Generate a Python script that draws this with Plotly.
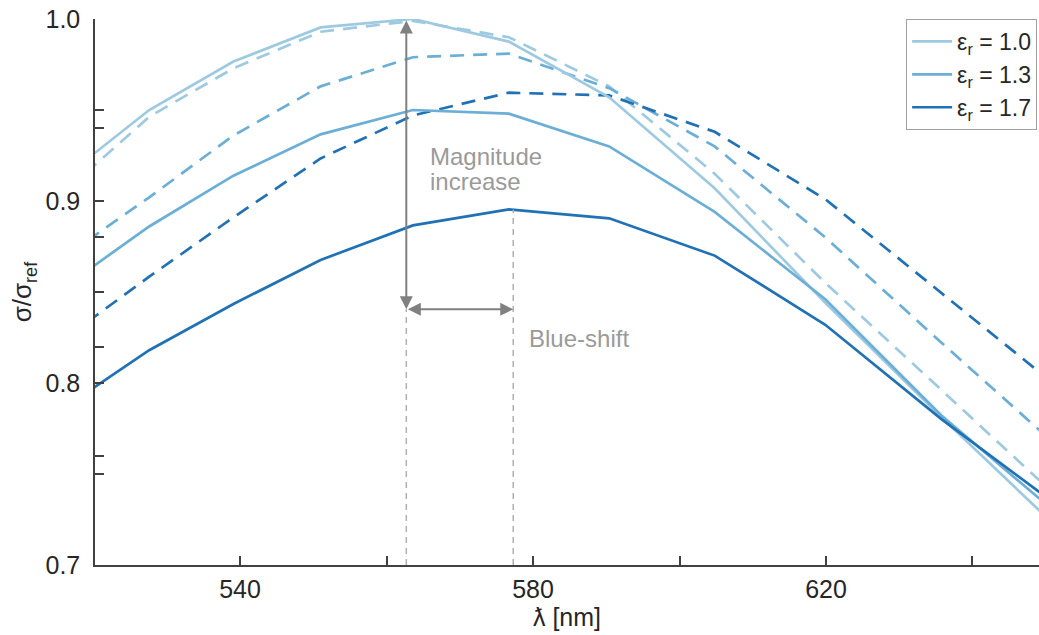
import plotly.graph_objects as go

# ---- data ----
wavelength = [516.6, 527.6, 539.1, 551.0, 563.6, 576.7, 590.4, 604.8, 619.9, 635.8, 652.5]
eps_labels = ["1.0", "1.3", "1.7"]
solid_10 = [0.915, 0.950, 0.9766, 0.9954, 1.000, 0.9876, 0.957, 0.907, 0.844, 0.781, 0.717]
solid_13 = [0.8545, 0.886, 0.9139, 0.9366, 0.950, 0.948, 0.930, 0.894, 0.846, 0.782, 0.725]
solid_17 = [0.788, 0.818, 0.8434, 0.8676, 0.8866, 0.8954, 0.8905, 0.870, 0.832, 0.780, 0.730]
dashed_10 = [0.907, 0.9463, 0.9729, 0.993, 0.999, 0.990, 0.963, 0.915, 0.855, 0.796, 0.734]
dashed_13 = [0.871, 0.902, 0.936, 0.963, 0.979, 0.981, 0.962, 0.930, 0.880, 0.822, 0.762]
dashed_17 = [0.826, 0.8584, 0.891, 0.9234, 0.947, 0.9595, 0.958, 0.938, 0.901, 0.849, 0.795]

x_tickvals = [540, 580, 620]
x_minor_ticks = [560, 600, 640]
y_tickvals = [0.7, 0.8, 0.9, 1.0]
y_extra_ticks = [0.95, 0.94, 0.88, 0.85, 0.82, 0.76, 0.75]

# annotation positions
mag_x = 562.7
mag_top = 1.0
mag_bottom = 0.8405
shift_x0 = 562.7
shift_x1 = 577.3
shift_top = 0.8952

colors = ["#9ecae1", "#6baed6", "#2171b5"]
FONT = "Liberation Sans, Arial, Helvetica, sans-serif"
AX = "#404040"
TXT = "#262626"
GRAY = "#808080"
LGRAY = "#9a9a9a"

fig = go.Figure()

for vals, c in zip([dashed_10, dashed_13, dashed_17], colors):
    fig.add_trace(go.Scatter(x=wavelength, y=vals, mode="lines",
                             line=dict(color=c, width=2.7, dash="14px,9px"),
                             showlegend=False, hoverinfo="skip"))

for vals, c, lab in zip([solid_10, solid_13, solid_17], colors, eps_labels):
    fig.add_trace(go.Scatter(x=wavelength, y=vals, mode="lines",
                             line=dict(color=c, width=2.7),
                             name=f"ε<sub>r</sub> = {lab}"))

# invisible trace to host extra y ticks
fig.add_trace(go.Scatter(x=[], y=[], yaxis="y2", showlegend=False, hoverinfo="skip"))

# dashed guide lines
fig.add_shape(type="line", x0=shift_x0, x1=shift_x0, y0=0.7, y1=mag_bottom,
              line=dict(color="#b0b0b0", width=1.5, dash="6px,5px"))
fig.add_shape(type="line", x0=shift_x1, x1=shift_x1, y0=0.7, y1=shift_top,
              line=dict(color="#b0b0b0", width=1.5, dash="6px,5px"))

# double arrows
fig.add_annotation(x=mag_x, y=mag_bottom, ax=mag_x, ay=mag_top, xref="x", yref="y",
                   axref="x", ayref="y", showarrow=True, text="", arrowhead=2,
                   arrowside="end+start", arrowsize=1.3, arrowwidth=2, arrowcolor=GRAY,
                   startarrowhead=2, startarrowsize=1.3)
fig.add_annotation(x=shift_x1, y=mag_bottom, ax=shift_x0, ay=mag_bottom, xref="x", yref="y",
                   axref="x", ayref="y", showarrow=True, text="", arrowhead=2,
                   arrowside="end+start", arrowsize=1.3, arrowwidth=2, arrowcolor=GRAY,
                   startarrowhead=2, startarrowsize=1.3)

fig.add_annotation(x=565.7, y=0.9245, xref="x", yref="y", text="Magnitude", showarrow=False,
                   xanchor="left", yanchor="middle", font=dict(family=FONT, size=24, color=LGRAY))
fig.add_annotation(x=565.7, y=0.9108, xref="x", yref="y", text="increase", showarrow=False,
                   xanchor="left", yanchor="middle", font=dict(family=FONT, size=24, color=LGRAY))
fig.add_annotation(x=579.2, y=0.8245, xref="x", yref="y", text="Blue-shift", showarrow=False,
                   xanchor="left", yanchor="middle", font=dict(family=FONT, size=24, color=LGRAY))

fig.update_layout(
    width=1039, height=635,
    margin=dict(l=95, r=0, t=19, b=70),
    paper_bgcolor="white", plot_bgcolor="white",
    font=dict(family=FONT, size=24, color=TXT),
    xaxis=dict(range=[520.2, 649.08], tickvals=x_tickvals, ticks="inside", ticklen=9,
               tickwidth=1.5, tickcolor=AX, showline=True, linecolor=AX, linewidth=1.5,
               showgrid=False, zeroline=False, tickfont=dict(size=25, color=TXT),
               minor=dict(tickvals=x_minor_ticks, ticks="inside", ticklen=9, tickcolor=AX,
                          tickwidth=1.5, showgrid=False),
               title=dict(text="ƛ [nm]", font=dict(size=25, color=TXT), standoff=4),
               ticklabelstandoff=1),
    yaxis=dict(range=[0.7, 1.0], tickvals=y_tickvals, tickformat=".1f", ticks="inside",
               ticklen=9, tickwidth=1.5, tickcolor=AX, showline=True, linecolor=AX,
               linewidth=1.5, showgrid=False, zeroline=False, tickfont=dict(size=25, color=TXT),
               title=dict(text="σ/σ<sub>ref</sub>", font=dict(size=26, color=TXT), standoff=6),
               ticklabelstandoff=8),
    yaxis2=dict(range=[0.7, 1.0], overlaying="y", side="left", anchor="x",
                tickvals=y_extra_ticks, showticklabels=False, ticks="inside", ticklen=9,
                tickwidth=1.5, tickcolor=AX, showline=False, showgrid=False, zeroline=False),
    legend=dict(x=0.998, xanchor="right", y=1.0, yanchor="top", bgcolor="white",
                bordercolor="#a0a0a0", borderwidth=1, font=dict(size=23, color=TXT),
                tracegroupgap=0, itemwidth=40),
    showlegend=True,
)

fig.write_html("out.html")
